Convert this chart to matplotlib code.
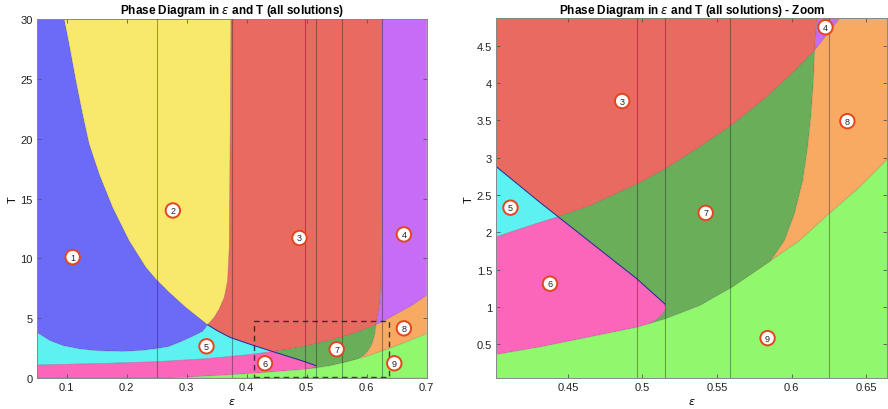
import matplotlib
matplotlib.use("Agg")
import matplotlib.pyplot as plt
from matplotlib.patches import Polygon, Rectangle

plt.rcParams['font.family'] = ['Liberation Sans', 'DejaVu Sans']
plt.rcParams['mathtext.fontset'] = 'dejavusans'

# ---- phase boundaries, (epsilon, T) ----
# blue / yellow
by_eps = [0.096, 0.1043, 0.1155, 0.1267, 0.1377, 0.1543, 0.1767, 0.2043, 0.2322, 0.2488, 0.271, 0.2988, 0.3267, 0.335]
by_T   = [30.0, 27.9, 24.85, 22.06, 19.55, 17.05, 14.26, 11.47, 9.25, 8.27, 7.16, 5.90, 4.79, 4.45]
# yellow / red
yr_eps = [0.3738, 0.3725, 0.371, 0.3683, 0.3627, 0.3543, 0.346, 0.335]
yr_T   = [30.0, 20.0, 10.9, 8.13, 6.74, 5.77, 5.07, 4.45]
# lower edge of the blue phase
bb_eps = [0.05, 0.072, 0.094, 0.122, 0.150, 0.194, 0.225, 0.250, 0.270, 0.289, 0.311, 0.327, 0.335]
bb_T   = [3.82, 3.12, 2.70, 2.42, 2.28, 2.22, 2.30, 2.45, 2.62, 3.00, 3.50, 3.90, 4.45]
# cyan / red edge continuing as pink / dark-green edge
ln_eps = [0.335, 0.350, 0.372, 0.402, 0.4313, 0.4435, 0.496, 0.5151]
ln_T   = [4.45, 3.98, 3.40, 2.88, 2.40, 2.208, 1.38, 1.038]
# upper edge of the pink phase
pk_eps = [0.05, 0.15, 0.25, 0.335, 0.402, 0.4313, 0.4435]
pk_T   = [1.09, 1.20, 1.36, 1.62, 1.94, 2.133, 2.208]
# right tip of the pink phase
pr_eps = [0.5151, 0.5155, 0.5138, 0.5094, 0.5049]
pr_T   = [1.038, 0.96, 0.904, 0.823, 0.775]
# red / dark-green
rg_eps = [0.4435, 0.4647, 0.4964, 0.5151, 0.5361, 0.5593, 0.583, 0.6008, 0.6155]
rg_T   = [2.208, 2.355, 2.646, 2.847, 3.115, 3.428, 3.81, 4.14, 4.44]
# red / purple, then dark-green / orange
rp_eps = [0.625, 0.625, 0.624, 0.622, 0.619, 0.6171, 0.6155, 0.6147, 0.6131, 0.6108, 0.6075, 0.6019, 0.5952, 0.5852, 0.574, 0.5593]
rp_T   = [30.0, 15.0, 7.6, 6.2, 5.35, 4.86, 4.44, 4.03, 3.585, 3.138, 2.69, 2.244, 1.886, 1.596, 1.395, 1.252]
# purple / orange
po_eps = [0.6155, 0.632, 0.650, 0.675, 0.700]
po_T   = [4.44, 4.86, 5.35, 6.05, 6.90]
# upper edge of the light-green phase
lg_eps = [0.272, 0.300, 0.350, 0.402, 0.4313, 0.4964, 0.5049, 0.5151, 0.5384, 0.5593, 0.583, 0.6053, 0.625, 0.6455, 0.6633, 0.700]
lg_T   = [0.0, 0.07, 0.20, 0.36, 0.46, 0.725, 0.775, 0.836, 1.015, 1.252, 1.574, 1.886, 2.244, 2.602, 2.958, 3.70]

# marker lines and zoom window
v_lines = [0.25, 0.375, 0.4965, 0.515, 0.559, 0.625]
zoom_box = [0.412, 0.637, 0.05, 4.8]

phase_ids = ['1', '2', '3', '4', '5', '6', '7', '8', '9']
left_label_eps = [0.110, 0.277, 0.488, 0.662, 0.333, 0.4305, 0.550, 0.662, 0.646]
left_label_T   = [10.1, 14.0, 11.7, 12.0, 2.65, 1.23, 2.40, 4.15, 1.23]
right_label_eps = [0.4864, 0.6227, 0.4115, 0.438, 0.5424, 0.6374, 0.5839]
right_label_T   = [3.76, 4.75, 2.33, 1.31, 2.26, 3.49, 0.58]
right_label_ids = ['3', '4', '5', '6', '7', '8', '9']

colors = {
    '1': '#6b6bf7', '2': '#f8e86c', '3': '#e96a61', '4': '#c66cf7',
    '5': '#5ef1f2', '6': '#f966ba', '7': '#6aae5a', '8': '#f8a962',
    '9': '#8ff86d',
}

E0, E1, TMAX = 0.05, 0.70, 30.0


def pts(e, t):
    return list(zip(e, t))


def rev(p):
    return p[::-1]


def seg(e, t, lo, hi):
    return [(a, b) for a, b in zip(e, t) if lo - 1e-9 <= a <= hi + 1e-9]


BY = pts(by_eps, by_T)
YR = pts(yr_eps, yr_T)
BB = pts(bb_eps, bb_T)
LN = pts(ln_eps, ln_T)
LN_up = LN[:6]          # triple point (1,2,3) -> triple point (3,5,6)
LN_lo = LN[5:]          # -> tip of the pink phase
PK = pts(pk_eps, pk_T)
PR = pts(pr_eps, pr_T)
RG = pts(rg_eps, rg_T)
RP = pts(rp_eps, rp_T)
RP_up = RP[:7]          # top -> triple point (3,4,7)
RP_lo = RP[6:]          # -> light-green edge
PO = pts(po_eps, po_T)
LG = pts(lg_eps, lg_T)

polys = {
    '1': [(E0, TMAX)] + BY + rev(BB),
    '2': [(by_eps[0], TMAX)] + [(yr_eps[0], TMAX)] + YR + rev(BY),
    '3': [(yr_eps[0], TMAX)] + RP_up + rev(RG) + rev(LN_up) + rev(YR),
    '4': RP_up + PO[1:] + [(E1, TMAX)],
    '5': BB + LN_up + rev(PK),
    '6': [(E0, 0.0)] + PK + LN_lo + PR + rev(seg(lg_eps, lg_T, 0.272, 0.5049)),
    '7': RG + RP_lo + rev(seg(lg_eps, lg_T, 0.5049, 0.5593)) + rev(PR) + rev(LN_lo),
    '8': PO + [(E1, lg_T[-1])] + rev(seg(lg_eps, lg_T, 0.5593, 0.70)) + rev(RP_lo),
    '9': LG + [(E1, 0.0)],
}

fig = plt.figure(figsize=(8.88, 4.10), dpi=100)
axL = fig.add_axes([0.0413, 0.0756, 0.4392, 0.8756])
axR = fig.add_axes([0.5589, 0.0756, 0.4400, 0.8773])


def draw_phases(ax):
    for k in phase_ids:
        ax.add_patch(Polygon(polys[k], closed=True, fc=colors[k],
                             ec=(0, 0, 0, 0.15), lw=0.5, zorder=1,
                             joinstyle='round'))
    ax.plot([p[0] for p in LN], [p[1] for p in LN], color='#2a2a9a',
            lw=0.7, zorder=2)
    for x in v_lines:
        ax.axvline(x, color=(0.15, 0.15, 0.15, 0.42), lw=0.8, zorder=3)


def style(ax):
    ax.tick_params(direction='in', length=3, width=0.6, colors='#555555',
                   labelcolor='#222222', labelsize=8, top=True, right=True,
                   pad=3)
    for s in ax.spines.values():
        s.set_color('#888888')
        s.set_linewidth(0.7)
    ax.set_xlabel(r'$\epsilon$', fontsize=8, labelpad=3)
    ax.set_ylabel('T', fontsize=8, labelpad=2)


def label(ax, x, y, s):
    ax.text(x, y, s, ha='center', va='center', fontsize=6.5, color='#222222',
            zorder=6,
            bbox=dict(boxstyle='circle,pad=0.3', fc='white', ec='#e4451d',
                      lw=1.4))


# full diagram
draw_phases(axL)
axL.add_patch(Rectangle((zoom_box[0], zoom_box[2]), zoom_box[1] - zoom_box[0],
                        zoom_box[3] - zoom_box[2], fill=False,
                        ls=(0, (4, 3)), lw=1.0, ec=(0.1, 0.1, 0.1, 0.8),
                        zorder=4))
for k, x, y in zip(phase_ids, left_label_eps, left_label_T):
    label(axL, x, y, k)
axL.set_xlim(E0, E1)
axL.set_ylim(0, TMAX)
axL.set_xticks([0.1, 0.2, 0.3, 0.4, 0.5, 0.6, 0.7])
axL.set_xticklabels(['0.1', '0.2', '0.3', '0.4', '0.5', '0.6', '0.7'])
axL.set_yticks([0, 5, 10, 15, 20, 25, 30])
style(axL)
axL.set_title(r'Phase Diagram in $\epsilon$ and T (all solutions)',
              fontsize=8.5, fontweight='bold', pad=4)

# zoomed view
draw_phases(axR)
for k, x, y in zip(right_label_ids, right_label_eps, right_label_T):
    label(axR, x, y, k)
axR.set_xlim(0.402, 0.664)
axR.set_ylim(0.045, 4.87)
axR.set_xticks([0.45, 0.5, 0.55, 0.6, 0.65])
axR.set_xticklabels(['0.45', '0.5', '0.55', '0.6', '0.65'])
axR.set_yticks([0.5, 1, 1.5, 2, 2.5, 3, 3.5, 4, 4.5])
axR.set_yticklabels(['0.5', '1', '1.5', '2', '2.5', '3', '3.5', '4', '4.5'])
style(axR)
axR.set_title(r'Phase Diagram in $\epsilon$ and T (all solutions) - Zoom',
              fontsize=8.5, fontweight='bold', pad=4)

fig.savefig('out.png', dpi=100)
